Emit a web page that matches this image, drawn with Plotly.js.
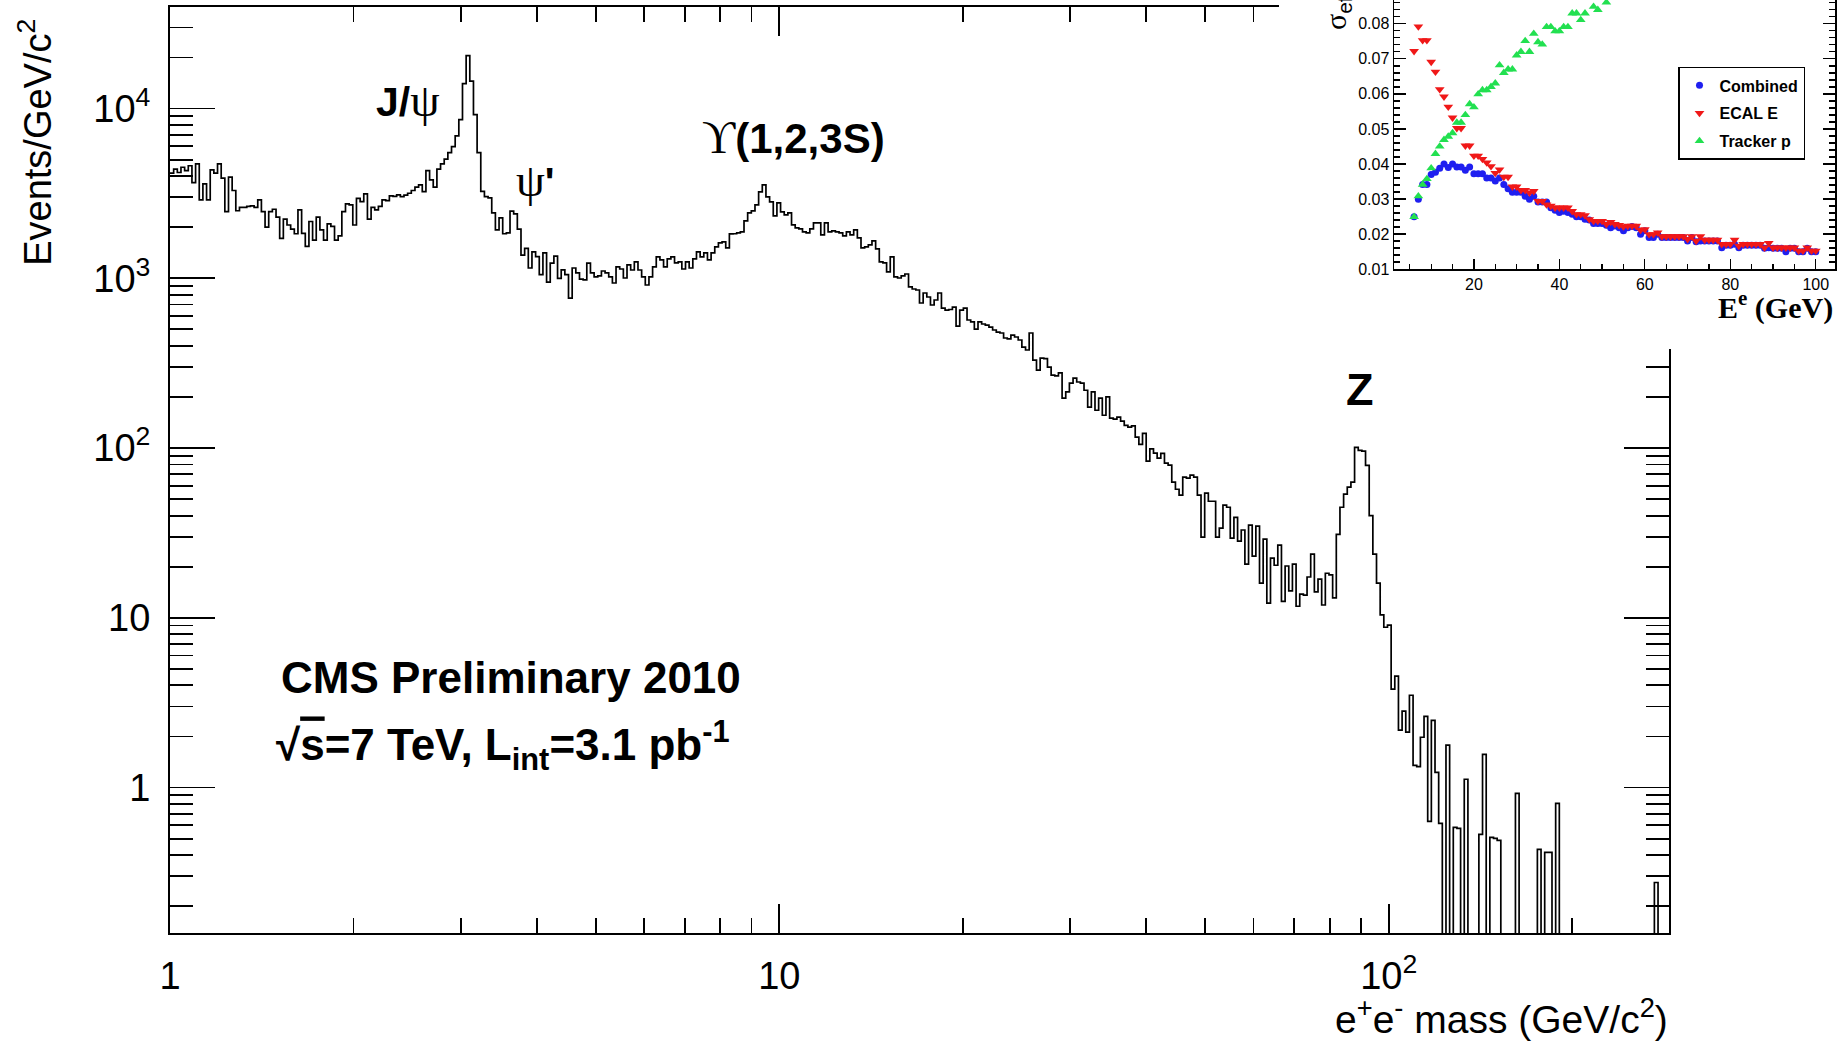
<!DOCTYPE html>
<html>
<head>
<meta charset="utf-8">
<script src="https://cdn.plot.ly/plotly-3.0.1.min.js"></script>
<style>
  html, body { margin: 0; padding: 0; background: #ffffff; }
  #wrap { position: relative; width: 1837px; height: 1042px; overflow: hidden; }
  #main { position: absolute; left: 0; top: 0; width: 1837px; height: 1042px; }
  #inset { position: absolute; left: 1279px; top: 0; width: 558px; height: 349px; }
</style>
</head>
<body>
<div id="wrap">
  <div id="main"></div>
  <div id="inset"></div>
</div>
<script>
// ---------------------------------------------------------------
// Dielectron invariant-mass spectrum, CMS 2010 (3.1 pb^-1)
// Log-uniform binning: 0.006 decades per bin starting at 1 GeV/c^2
// ---------------------------------------------------------------
const massMinGeV = 1;
const logBinWidth = 0.006;

// events / GeV/c^2 in each mass bin (0 = empty bin)
const eventsPerGeV = [
  4160, 4390, 4200, 4510, 4310, 4600, 3660, 4720, 2900, 3600,
  2900, 4350, 4160, 4720, 3890, 2470, 3940, 3290, 2500, 2620,
  2620, 2650, 2670, 2620, 2900, 2470, 2000, 2470, 2550, 2290,
  1720, 2230, 2060, 1950, 1830, 2530, 1840, 1540, 2160, 1680,
  2290, 1930, 1680, 2090, 2020, 1680, 1780, 2470, 2740, 2710,
  2060, 2960, 2830, 3140, 2230, 2620, 2530, 2650, 2900, 2870,
  3060, 3040, 3100, 3030, 3090, 3170, 3290, 3440, 3550, 3240,
  4310, 3800, 3440, 4390, 4720, 5030, 5500, 5970, 6900, 8600,
  14000, 20500, 14500, 9200, 5500, 3250, 3030, 2980, 2430, 1930,
  2270, 1830, 1850, 2490, 2395, 1950, 1370, 1500, 1150, 1430,
  1340, 1050, 1410, 950, 1230, 1350, 1000, 1120, 1050, 765,
  1150, 1075, 990, 980, 1230, 1075, 1018, 1032, 1104, 1075,
  1018, 938, 1166, 1134, 1004, 1198, 1119, 1248, 1119, 1018,
  913, 1018, 1166, 1336, 1282, 1166, 1300, 1336, 1231, 1248,
  1134, 1248, 1150, 1300, 1430, 1336, 1411, 1282, 1411, 1530,
  1616, 1638, 1510, 1826, 1830, 1851, 1876, 2178, 2428, 2495,
  2706, 3228, 3549, 3017, 2818, 2331, 2780, 2462, 2363, 2428,
  2063, 1981, 1954, 1876, 1851, 1954, 2120, 2120, 1801, 2120,
  1876, 1902, 1876, 1851, 1777, 1876, 1801, 1928, 1729, 1510,
  1530, 1573, 1660, 1489, 1248, 1231, 1090, 1336, 1018, 1004,
  1032, 1060, 889, 865, 853, 715, 819, 776, 696, 745,
  819, 668, 650, 655, 677, 523, 650, 668, 568, 553,
  502, 553, 538, 530, 516, 496, 482, 476, 445, 440,
  463, 451, 433, 393, 378, 476, 330, 288, 339, 336,
  300, 269, 266, 277, 197, 214, 241, 258, 245, 241,
  219, 174, 214, 167, 197, 156, 200, 150, 148, 152,
  144, 136, 133, 135, 116, 105, 122, 83.7, 99, 93.3,
  87.2, 93, 81.5, 79.3, 63, 57.2, 52.8, 67.4, 66.5, 69.2,
  67.4, 52.8, 29.9, 54.2, 48.6, 48.6, 29.9, 33.8, 46.1, 44.8,
  29.5, 39.1, 28.3, 32.9, 20.7, 35.2, 23.1, 34.7, 16.0, 29.1,
  12.2, 22.5, 20.4, 26.8, 12.5, 20.2, 14.4, 20.7, 11.7, 13.8,
  13.6, 17.4, 23.7, 14.2, 16.9, 11.9, 18.3, 17.9, 13.1, 31,
  44.8, 53.5, 58.8, 63, 101, 97, 96, 79, 40, 23.7,
  16.0, 10.4, 8.8, 9.05, 3.80, 4.53, 2.18, 2.82, 2.12, 3.50,
  1.35, 1.33, 1.98, 2.63, 0.633, 2.49, 1.23, 0.616, 0, 1.78,
  0, 0.583, 0.575, 0, 1.12, 0, 0, 0, 0.530, 1.57,
  0, 0.509, 0.502, 0.489, 0, 0, 0, 0, 0.925, 0,
  0, 0, 0, 0, 0.433, 0, 0.415, 0.415, 0, 0.808,
  0, 0, 0, 0, 0, 0, 0, 0, 0, 0,
  0, 0, 0, 0, 0, 0, 0, 0, 0, 0,
  0, 0, 0, 0, 0, 0, 0.276, 0, 0, 0
];

// axis decorations of the main frame
const massTickVals = [1, 10, 100];
const massTickText = ['1', '10', '10<sup>2</sup>'];
const massMinorTicks = [2, 3, 4, 5, 6, 7, 8, 9, 20, 30, 40, 50, 60, 70, 80, 90, 200];
const rateTickVals = [1, 10, 100, 1000, 10000];
const rateTickText = ['1', '10', '10<sup>2</sup>', '10<sup>3</sup>', '10<sup>4</sup>'];
const rateMinorTicks = [0.2, 0.3, 0.4, 0.5, 0.6, 0.7, 0.8, 0.9,
  2, 3, 4, 5, 6, 7, 8, 9, 20, 30, 40, 50, 60, 70, 80, 90,
  200, 300, 400, 500, 600, 700, 800, 900,
  2000, 3000, 4000, 5000, 6000, 7000, 8000, 9000, 20000, 30000];

// ---------------------------------------------------------------
// Inset: effective energy resolution vs electron energy
// ---------------------------------------------------------------
const electronEnergyGeV = [
  6, 7, 8, 9, 10, 11, 12, 13, 14, 15, 16, 17, 18, 19, 20, 21, 22, 23, 24, 25,
  26, 27, 28, 29, 30, 31, 32, 33, 34, 35, 36, 37, 38, 39, 40, 41, 42, 43, 44, 45,
  46, 47, 48, 49, 50, 51, 52, 53, 54, 55, 56, 57, 58, 59, 60, 61, 62, 63, 64, 65,
  66, 67, 68, 69, 70, 71, 72, 73, 74, 75, 76, 77, 78, 79, 80, 81, 82, 83, 84, 85,
  86, 87, 88, 89, 90, 91, 92, 93, 94, 95, 96, 97, 98, 99, 100
];
const sigmaCombined = [
  0.0249, 0.0299, 0.0341, 0.0341, 0.0370, 0.0376, 0.0388, 0.0400, 0.0390, 0.0400,
  0.0391, 0.0391, 0.0382, 0.0391, 0.0372, 0.0372, 0.0372, 0.0360, 0.0360, 0.0351,
  0.0360, 0.0341, 0.0329, 0.0319, 0.0319, 0.0319, 0.0308, 0.0299, 0.0308, 0.0291,
  0.0291, 0.0291, 0.0275, 0.0268, 0.0261, 0.0265, 0.0261, 0.0256, 0.0249, 0.0249,
  0.0242, 0.0240, 0.0230, 0.0230, 0.0230, 0.0225, 0.0218, 0.0223, 0.0218, 0.0209,
  0.0218, 0.0221, 0.0218, 0.0199, 0.0209, 0.0190, 0.0190, 0.0199, 0.0190, 0.0190,
  0.0190, 0.0190, 0.0190, 0.0190, 0.0180, 0.0190, 0.0178, 0.0180, 0.0180, 0.0180,
  0.0180, 0.0180, 0.0161, 0.0168, 0.0168, 0.0171, 0.0161, 0.0168, 0.0168, 0.0168,
  0.0168, 0.0168, 0.0159, 0.0161, 0.0159, 0.0159, 0.0159, 0.0149, 0.0159, 0.0159,
  0.0149, 0.0149, 0.0159, 0.0149, 0.0149
];
const sigmaEcal = [
  0.0722, 0.0792, 0.0753, 0.0753, 0.0691, 0.0663, 0.0613, 0.0592, 0.0563, 0.0532,
  0.0502, 0.0502, 0.0452, 0.0452, 0.0423, 0.0423, 0.0414, 0.0404, 0.0393, 0.0374,
  0.0384, 0.0363, 0.0363, 0.0335, 0.0335, 0.0325, 0.0325, 0.0318, 0.0322, 0.0294,
  0.0294, 0.0284, 0.0280, 0.0275, 0.0275, 0.0275, 0.0275, 0.0265, 0.0256, 0.0256,
  0.0253, 0.0242, 0.0237, 0.0237, 0.0237, 0.0228, 0.0234, 0.0228, 0.0225, 0.0221,
  0.0223, 0.0223, 0.0223, 0.0211, 0.0213, 0.0199, 0.0199, 0.0204, 0.0193, 0.0193,
  0.0193, 0.0193, 0.0193, 0.0193, 0.0185, 0.0193, 0.0180, 0.0193, 0.0183, 0.0183,
  0.0183, 0.0183, 0.0171, 0.0171, 0.0171, 0.0183, 0.0166, 0.0171, 0.0171, 0.0171,
  0.0171, 0.0171, 0.0161, 0.0174, 0.0161, 0.0161, 0.0161, 0.0161, 0.0161, 0.0161,
  0.0152, 0.0152, 0.0161, 0.0152, 0.0152
];
// tracker resolution keeps rising and leaves the frame above ~51 GeV
const sigmaTracker = [
  0.0249, 0.0308, 0.0341, 0.0357, 0.0388, 0.0429, 0.0450, 0.0469, 0.0478, 0.0488,
  0.0518, 0.0518, 0.0540, 0.0571, 0.0562, 0.0599, 0.0611, 0.0611, 0.0620, 0.0630,
  0.0682, 0.0660, 0.0670, 0.0670, 0.0710, 0.0720, 0.0751, 0.0720, 0.0772, 0.0748,
  0.0741, 0.0791, 0.0791, 0.0779, 0.0779, 0.0791, 0.0791, 0.0830, 0.0830, 0.0811,
  0.0830, null, 0.0849, 0.0840, null, 0.0861
];
const insetSeriesNames = ['Combined', 'ECAL E', 'Tracker p'];
const insetColors = ['#1f1ff0', '#f01818', '#22e050'];

// ---------------------------------------------------------------
const SANS = 'Liberation Sans, Arial, Helvetica, sans-serif';
const SERIF_STYLE = 'font-family:Liberation Serif,DejaVu Serif,serif';

// frame geometry of the main pad (pixels)
const W = 1837, H = 1042;
const padL = 170, padR = 1669.5, padT = 7.3, padB = 932.6;
const fx = px => (px - padL) / (padR - padL);
const fy = py => (padB - py) / (padB - padT);

// bin edges and step outline
const binEdges = [];
for (let i = 0; i <= eventsPerGeV.length; i++) {
  binEdges.push(massMinGeV * Math.pow(10, i * logBinWidth));
}
// empty bins are drawn below the frame so the outline drops to the axis
const drawn = eventsPerGeV.map(v => (v > 0 ? v : 1e-3));
drawn.push(drawn[drawn.length - 1]);

const histTrace = {
  type: 'scatter',
  mode: 'lines',
  x: binEdges,
  y: drawn,
  line: { shape: 'hv', color: '#000000', width: 1.7, simplify: false },
  hoverinfo: 'skip',
  showlegend: false
};

const tickFont = { family: SANS, size: 38, color: '#000000' };

const mainLayout = {
  width: W, height: H,
  margin: { l: padL, r: W - padR, t: padT, b: H - padB, pad: 0 },
  paper_bgcolor: '#ffffff',
  plot_bgcolor: '#ffffff',
  showlegend: false,
  xaxis: {
    type: 'log', range: [0, 2.46],
    showline: true, linecolor: '#000000', linewidth: 2, mirror: 'allticks',
    ticks: 'inside', ticklen: 29, tickwidth: 1.8, tickcolor: '#000000',
    tickmode: 'array', tickvals: massTickVals, ticktext: massTickText,
    tickfont: tickFont, ticklabelstandoff: 8,
    showgrid: false, zeroline: false,
    minor: { tickmode: 'array', tickvals: massMinorTicks, ticks: 'inside',
             ticklen: 15, tickwidth: 1.8, tickcolor: '#000000', showgrid: false }
  },
  yaxis: {
    type: 'log', range: [-0.8565, 4.598],
    showline: true, linecolor: '#000000', linewidth: 2, mirror: 'allticks',
    ticks: 'inside', ticklen: 45, tickwidth: 1.8, tickcolor: '#000000',
    tickmode: 'array', tickvals: rateTickVals, ticktext: rateTickText,
    tickfont: tickFont, ticklabelstandoff: 10,
    showgrid: false, zeroline: false,
    minor: { tickmode: 'array', tickvals: rateMinorTicks, ticks: 'inside',
             ticklen: 23, tickwidth: 1.8, tickcolor: '#000000', showgrid: false }
  },
  annotations: [
    { text: 'Events/GeV/c<sup>2</sup>', xref: 'paper', yref: 'paper',
      x: fx(35), y: fy(143), xanchor: 'center', yanchor: 'middle', textangle: -90,
      showarrow: false, font: { family: SANS, size: 38, color: '#000000' } },
    { text: 'e<sup>+</sup>e<sup>-</sup> mass (GeV/c<sup>2</sup>)', xref: 'paper', yref: 'paper',
      x: fx(1671), y: fy(1016), xanchor: 'right', yanchor: 'middle',
      showarrow: false, font: { family: SANS, size: 39, color: '#000000' } },
    { text: '<b>J/</b><span style="' + SERIF_STYLE + ';font-size:47px">ψ</span>', xref: 'paper', yref: 'paper',
      x: fx(374), y: fy(100), xanchor: 'left', yanchor: 'middle',
      showarrow: false, font: { family: SANS, size: 41, color: '#000000' } },
    { text: '<span style="' + SERIF_STYLE + ';font-size:46px">ψ</span><b>\'</b>', xref: 'paper', yref: 'paper',
      x: fx(514), y: fy(181), xanchor: 'left', yanchor: 'middle',
      showarrow: false, font: { family: SANS, size: 41, color: '#000000' } },
    { text: '<span style="' + SERIF_STYLE + ';font-size:46px">ϒ</span><b>(1,2,3S)</b>', xref: 'paper', yref: 'paper',
      x: fx(700), y: fy(138), xanchor: 'left', yanchor: 'middle',
      showarrow: false, font: { family: SANS, size: 42, color: '#000000' } },
    { text: '<b>Z</b>', xref: 'paper', yref: 'paper',
      x: fx(1344), y: fy(390), xanchor: 'left', yanchor: 'middle',
      showarrow: false, font: { family: SANS, size: 45, color: '#000000' } },
    { text: '<b>CMS Preliminary 2010</b>', xref: 'paper', yref: 'paper',
      x: fx(279), y: fy(677), xanchor: 'left', yanchor: 'middle',
      showarrow: false, font: { family: SANS, size: 44, color: '#000000' } },
    { text: '<b>√<span style="text-decoration:overline">s</span>=7 TeV, L<sub>int</sub>=3.1 pb<sup>-1</sup></b>',
      xref: 'paper', yref: 'paper',
      x: fx(274), y: fy(745), xanchor: 'left', yanchor: 'middle',
      showarrow: false, font: { family: SANS, size: 44, color: '#000000' } }
  ]
};

Plotly.newPlot('main', [histTrace], mainLayout, { staticPlot: true, displayModeBar: false });

// ---------------------------------------------------------------
// inset pad
// ---------------------------------------------------------------
const iW = 558, iH = 349;
const iL = 115, iR = 556, iT = 0, iB = 269.5;
const ifx = px => (px - iL) / (iR - iL);
const ify = py => (iB - py) / (iB - iT);

const insetSeries = [sigmaCombined, sigmaEcal, sigmaTracker];
const insetSymbols = ['circle', 'triangle-down', 'triangle-up'];
const insetSizes = [7, 8.5, 8.5];
const insetTraces = insetSeries.map((s, k) => ({
  type: 'scatter',
  mode: 'markers',
  name: '<b>' + insetSeriesNames[k] + '</b>',
  legendgroup: 'g' + k,
  x: electronEnergyGeV.slice(0, s.length),
  y: s,
  marker: { symbol: insetSymbols[k], size: insetSizes[k], color: insetColors[k],
            line: { width: 0 } },
  hoverinfo: 'skip'
}));

const insetFont = { family: SANS, size: 16, color: '#000000' };

const insetLayout = {
  width: iW, height: iH,
  margin: { l: iL, r: iW - iR, t: iT, b: iH - iB, pad: 0 },
  paper_bgcolor: '#ffffff',
  plot_bgcolor: '#ffffff',
  showlegend: true,
  legend: {
    x: ifx(399), y: ify(67), xanchor: 'left', yanchor: 'top',
    bgcolor: '#ffffff', bordercolor: '#000000', borderwidth: 1.5,
    font: { family: SANS, size: 16, color: '#000000' },
    tracegroupgap: 4, itemwidth: 30
  },
  xaxis: {
    range: [1.3, 104.5],
    showline: true, linecolor: '#000000', linewidth: 1.5,
    ticks: 'inside', ticklen: 10, tickwidth: 1.3, tickcolor: '#000000',
    tickmode: 'array', tickvals: [20, 40, 60, 80, 100],
    tickfont: insetFont, showgrid: false, zeroline: false,
    minor: { dtick: 5, tick0: 0, ticks: 'inside', ticklen: 5, tickwidth: 1.3,
             tickcolor: '#000000', showgrid: false }
  },
  yaxis: {
    range: [0.01, 0.0868],
    showline: true, linecolor: '#000000', linewidth: 1.5, mirror: 'allticks',
    ticks: 'inside', ticklen: 12, tickwidth: 1.3, tickcolor: '#000000',
    tickmode: 'linear', tick0: 0, dtick: 0.01, tickformat: '.2f',
    tickfont: insetFont, showgrid: false, zeroline: false,
    minor: { dtick: 0.002, tick0: 0, ticks: 'inside', ticklen: 6, tickwidth: 1.3,
             tickcolor: '#000000', showgrid: false }
  },
  annotations: [
    { text: '<span style="' + SERIF_STYLE + '">σ</span><sub>eff</sub>/E', xref: 'paper', yref: 'paper',
      x: ifx(58), y: ify(-4), xanchor: 'center', yanchor: 'middle', textangle: -90,
      showarrow: false, font: { family: SANS, size: 30, color: '#000000' } },
    { text: '<b>E<sup>e</sup> (GeV)</b>', xref: 'paper', yref: 'paper',
      x: ifx(556), y: ify(306), xanchor: 'right', yanchor: 'middle',
      showarrow: false, font: { family: 'Liberation Serif, DejaVu Serif, serif', size: 30, color: '#000000' } }
  ]
};

Plotly.newPlot('inset', insetTraces, insetLayout, { staticPlot: true, displayModeBar: false });
</script>
</body>
</html>
